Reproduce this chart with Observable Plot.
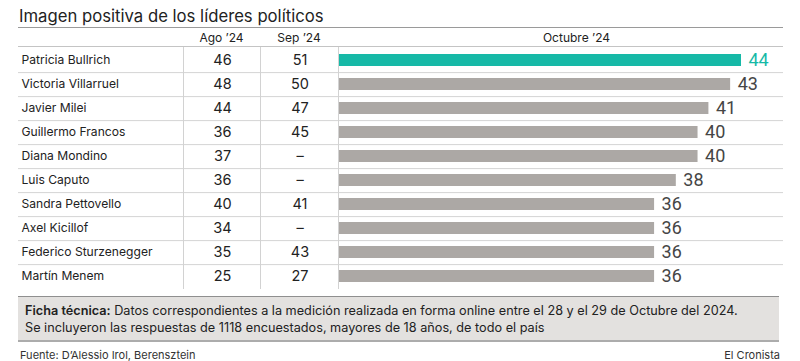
<!DOCTYPE html>
<html><head><meta charset="utf-8">
<script src="https://cdn.jsdelivr.net/npm/d3@7"></script>
<script src="https://cdn.jsdelivr.net/npm/@observablehq/plot@0.6"></script>
<style>
body{margin:0;background:#fff;font-family:Inter,"Noto Sans",sans-serif;color:#222;width:800px;height:361px;overflow:hidden;position:relative;}
#title{position:absolute;left:19px;top:5px;font-size:16.7px;line-height:22px;color:#222;}
#table{position:absolute;left:18px;top:27px;width:765px;border-top:1.5px solid #9a9a9a;}
#head{display:flex;height:17.5px;border-bottom:1px solid #c4c4c4;font-size:12px;color:#222;}
#head div{text-align:center;padding-top:2px;line-height:15.5px;box-sizing:border-box;}
#rows{display:flex;height:242px;}
#rows > div{height:242px;box-sizing:border-box;}
.bl{border-left:1px solid #d2d2d2;}
#box{position:absolute;left:18px;top:296px;width:754px;border-top:1.5px solid #8f8f8f;border-bottom:2px solid #acacac;background:#e3e1df;padding:5px 0 4px 7px;box-sizing:content-box;font-size:12.7px;line-height:17px;color:#222;}
#box b{font-weight:600;}
#foot{position:absolute;left:20px;right:20px;top:348px;font-size:11px;line-height:14px;color:#333;display:flex;justify-content:space-between;}
</style></head>
<body>
<div id="title">Imagen positiva de los líderes políticos</div>
<div id="table">
  <div id="head">
    <div style="width:165px"></div>
    <div style="width:77px" id="h1"></div>
    <div style="width:78px" id="h2"></div>
    <div style="width:445px;padding-left:32px" id="h3"></div>
  </div>
  <div id="rows">
    <div id="c0" style="width:165px"></div>
    <div id="c1" class="bl" style="width:77px"></div>
    <div id="c2" class="bl" style="width:78px"></div>
    <div id="c3" class="bl" style="width:445px"></div>
  </div>
</div>
<div id="box"><b>Ficha técnica:</b> Datos correspondientes a la medición realizada en forma online entre el 28 y el 29 de Octubre del 2024.<br>Se incluyeron las respuestas de 1118 encuestados, mayores de 18 años, de todo el país</div>
<div id="foot"><span>Fuente: D’Alessio Irol, Berensztein</span><span>El Cronista</span></div>
<script>
const columns = ["Ago ’24", "Sep ’24", "Octubre ’24"];
const names = ["Patricia Bullrich","Victoria Villarruel","Javier Milei","Guillermo Francos","Diana Mondino","Luis Caputo","Sandra Pettovello","Axel Kicillof","Federico Sturzenegger","Martín Menem"];
const ago = [46, 48, 44, 36, 37, 36, 40, 34, 35, 25];
const sep = [51, 50, 47, 45, null, null, 41, null, 43, 27];
const oct = [44, 43, 41, 40, 40, 38, 36, 36, 36, 36];
const highlight = "Patricia Bullrich";

document.getElementById("h1").textContent = columns[0];
document.getElementById("h2").textContent = columns[1];
document.getElementById("h3").textContent = columns[2];

const rows = names.map((name, i) => ({name, ago: ago[i], sep: sep[i], oct: oct[i]}));
const H = 242;
const rowH = H / names.length;
const yScale = {type: "band", domain: names, padding: 0, axis: null};
const sepRules = () => Plot.ruleY(names.slice(0, -1), {y: d => d, dy: rowH / 2, stroke: "#d4d4d4", strokeWidth: 1});
const fmt = v => v == null ? "–" : String(v);

const base = {height: H, marginTop: 0, marginBottom: 0, marginLeft: 0, marginRight: 0, y: yScale, style: {fontFamily: "Inter, 'Noto Sans', sans-serif", overflow: "visible", background: "transparent"}};

document.getElementById("c0").append(Plot.plot({...base, width: 165,
  marks: [
    sepRules(),
    Plot.text(rows, {y: "name", text: "name", frameAnchor: "left", dx: 3, textAnchor: "start", fontSize: 12.1, fill: "#222"})
  ]}));

document.getElementById("c1").append(Plot.plot({...base, width: 76,
  marks: [
    sepRules(),
    Plot.text(rows, {y: "name", text: d => fmt(d.ago), fontSize: 14.5, fill: "#222"})
  ]}));

document.getElementById("c2").append(Plot.plot({...base, width: 77,
  marks: [
    sepRules(),
    Plot.text(rows, {y: "name", text: d => fmt(d.sep), fontSize: 14.5, fill: "#222"})
  ]}));

const xDomain = [7, 44];
document.getElementById("c3").append(Plot.plot({...base, width: 444,
  x: {domain: xDomain, range: [0, 402], axis: null},
  marks: [
    sepRules(),
    Plot.barX(rows, {filter: d => d.name !== highlight, y: "name", x1: xDomain[0], x2: "oct", fill: "#aca8a5", insetTop: 6, insetBottom: 6}),
    Plot.barX(rows, {filter: d => d.name === highlight, y: "name", x1: xDomain[0], x2: "oct", fill: "#16b9a7", insetTop: 6, insetBottom: 6}),
    Plot.text(rows, {y: "name", x: "oct", text: "oct", dx: 7, textAnchor: "start", fontSize: 18, fontWeight: 400, fontFamily: "Roboto", fill: d => d.name === highlight ? "#16b9a7" : "#454545"})
  ]}));
</script>
</body></html>
